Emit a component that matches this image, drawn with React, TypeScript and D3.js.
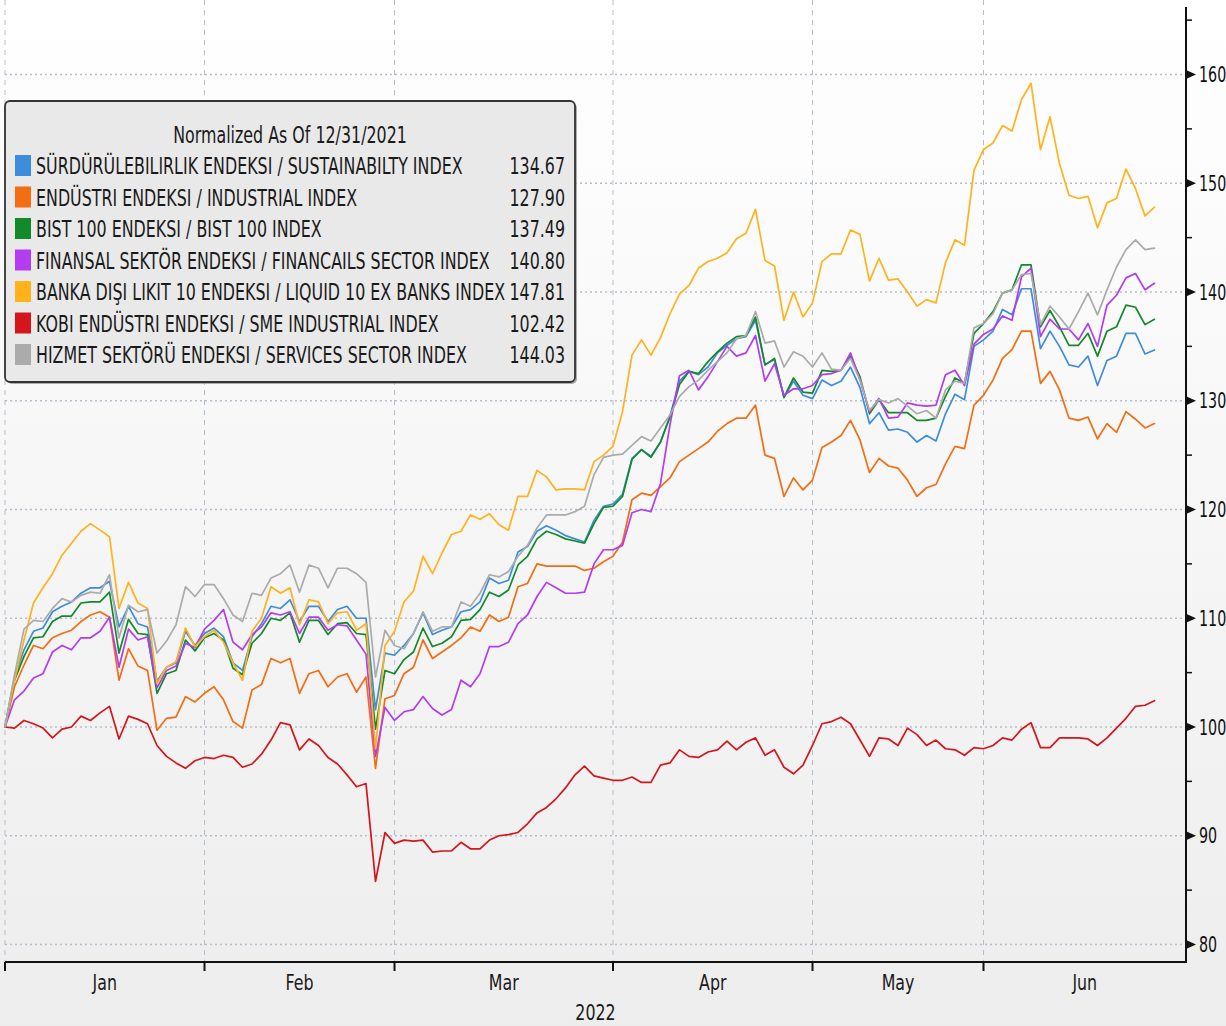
import React from 'react';
import * as d3 from 'd3';

const W = 1226;
const H = 1026;

// month boundaries as trading-day index (0 = 12/31/2021)
const monthLabels = ['Jan', 'Feb', 'Mar', 'Apr', 'May', 'Jun'];
const monthStartIdx = [0, 21, 41, 64, 85, 103];
const yearLabel = '2022';
const yTicks = [80, 90, 100, 110, 120, 130, 140, 150, 160];
const yMinorTicks = [85, 95, 105, 115, 125, 135, 145, 155, 165];
const legendTitle = 'Normalized As Of 12/31/2021';

const seriesNames = [
  'SÜRDÜRÜLEBILIRLIK ENDEKSI / SUSTAINABILTY INDEX',
  'ENDÜSTRI ENDEKSI / INDUSTRIAL INDEX',
  'BIST 100 ENDEKSI / BIST 100 INDEX',
  'FINANSAL SEKTÖR ENDEKSI / FINANCAILS SECTOR INDEX',
  'BANKA DIŞI LIKIT 10 ENDEKSI / LIQUID 10 EX BANKS INDEX',
  'KOBI ENDÜSTRI ENDEKSI / SME INDUSTRIAL INDEX',
  'HIZMET SEKTÖRÜ ENDEKSI / SERVICES SECTOR INDEX',
];
const lastLabels = ['134.67', '127.90', '137.49', '140.80', '147.81', '102.42', '144.03'];
const seriesColors = ['#3d8ddb', '#f36d12', '#13892a', '#b33cf0', '#ffb21c', '#d4161c', '#ababab'];

const sustainability = [
  100, 104.6, 107.1, 108.8, 109.1, 110.6, 111.1, 111.5, 112.3, 112.8,
  112.8, 113.4, 109.2, 111.1, 109.5, 109.2, 104.2, 105.5, 105.9, 108.8,
  107.5, 108.6, 109.1, 108.3, 105.9, 105.2, 108.3, 109.5, 111.1, 110.9,
  111.7, 109.7, 111.1, 111.1, 109.7, 110.8, 111.1, 110.0, 110.0, 101.6,
  106.8, 106.6, 107.5, 108.6, 110.5, 108.5, 108.9, 109.2, 110.6, 110.8,
  111.5, 113.7, 113.2, 113.5, 116.1, 116.6, 118.0, 118.5, 118.1, 117.6,
  117.3, 117.0, 119.0, 120.3, 120.5, 121.4, 124.7, 125.5, 124.9, 126.2,
  128.6, 131.8, 132.7, 132.4, 133.1, 134.4, 135.1, 135.7, 135.9, 137.4,
  133.3, 133.8, 130.3, 131.8, 130.5, 130.2, 131.9, 131.4, 131.8, 133.1,
  131.2, 127.9, 128.9, 127.3, 127.4, 127.1, 126.2, 126.8, 126.3, 128.8,
  130.6, 130.1, 135.0, 135.6, 136.4, 138.4, 137.9, 140.3, 140.3, 134.8,
  136.4, 135.0, 133.3, 133.1, 134.1, 131.4, 133.7, 134.1, 136.2, 136.2,
  134.3, 134.67,
];

const industrial = [
  100, 103.7, 105.7, 107.5, 107.2, 108.2, 108.6, 108.9, 109.7, 110.3,
  110.6, 110.1, 104.3, 107.2, 105.6, 105.2, 99.7, 100.8, 100.9, 102.8,
  102.3, 103.1, 103.7, 102.5, 100.5, 99.9, 103.4, 103.9, 106.3, 105.9,
  106.3, 103.1, 104.9, 105.2, 103.7, 104.6, 104.9, 103.2, 104.6, 96.2,
  102.6, 102.9, 104.9, 105.5, 108.0, 106.3, 106.9, 107.5, 108.2, 109.2,
  108.8, 110.3, 109.7, 110.1, 112.9, 113.2, 115.0, 114.8, 114.8, 114.8,
  114.8, 114.4, 114.6, 115.2, 115.7, 117.0, 120.9, 121.5, 121.3, 122.1,
  122.9, 124.4, 125.0, 125.6, 126.2, 127.2, 127.9, 128.4, 128.4, 129.6,
  125.0, 124.7, 121.2, 122.9, 121.8, 122.7, 125.7, 126.2, 126.8, 128.2,
  126.4, 123.4, 124.7, 124.0, 123.8, 122.7, 121.2, 122.0, 122.3, 124.2,
  125.8, 125.6, 129.6, 130.5, 131.9, 133.9, 134.7, 136.4, 136.4, 131.6,
  132.7, 131.0, 128.4, 128.2, 128.5, 126.5, 127.9, 127.1, 129.0, 128.3,
  127.5, 127.9,
];

const bist100 = [
  100, 104.3, 106.5, 108.2, 108.3, 109.7, 110.2, 110.2, 111.4, 111.5,
  111.5, 112.4, 106.8, 109.9, 108.6, 108.5, 103.1, 104.9, 105.2, 108.0,
  107.0, 108.2, 108.6, 108.0, 105.4, 104.8, 107.7, 108.6, 110.0, 109.8,
  110.5, 107.8, 109.8, 109.8, 108.5, 109.5, 109.6, 108.6, 108.5, 99.8,
  105.2, 104.9, 106.2, 106.9, 109.1, 107.4, 107.7, 108.3, 109.8, 109.9,
  110.8, 112.4, 112.0, 112.6, 114.9, 115.7, 117.3, 118.0, 117.7, 117.3,
  117.1, 116.9, 118.7, 120.2, 120.3, 121.2, 124.6, 125.5, 124.8, 126.2,
  128.5, 131.5, 132.7, 132.5, 133.6, 134.5, 135.3, 135.9, 136.0, 137.7,
  133.3, 133.9, 130.3, 132.1, 130.8, 130.7, 132.8, 132.7, 132.8, 134.1,
  132.2, 128.8, 130.1, 128.9, 128.9, 128.9, 128.2, 128.2, 128.4, 130.4,
  132.1, 131.6, 136.2, 137.1, 138.2, 139.9, 140.2, 142.5, 142.5, 136.8,
  138.3, 136.8, 135.1, 135.1, 136.2, 134.1, 136.4, 136.8, 138.8, 138.6,
  137.0, 137.49,
];

const financials = [
  100, 102.5, 103.3, 104.5, 104.9, 106.9, 107.5, 107.1, 108.2, 108.2,
  108.8, 110.1, 105.5, 109.0, 108.0, 108.3, 103.6, 105.2, 105.6, 107.7,
  107.3, 109.0, 109.8, 110.8, 107.8, 107.1, 108.5, 109.2, 110.5, 110.3,
  110.6, 108.6, 110.1, 110.1, 108.9, 109.4, 109.3, 108.0, 106.7, 97.3,
  101.8, 100.6, 101.4, 101.6, 102.8, 101.7, 101.1, 101.6, 104.3, 103.7,
  104.9, 107.4, 107.4, 107.8, 109.5, 110.3, 112.0, 113.3, 112.8, 112.3,
  112.3, 112.4, 115.0, 116.3, 116.3, 116.7, 119.7, 120.0, 119.8, 122.4,
  127.8, 132.3, 132.8, 131.0, 132.2, 133.6, 135.0, 134.1, 134.4, 136.0,
  131.8, 133.4, 130.5, 131.1, 131.1, 131.4, 132.4, 132.5, 132.8, 134.4,
  131.9, 129.0, 130.2, 128.4, 128.5, 129.8, 129.6, 129.5, 129.6, 132.4,
  132.8, 131.4, 135.2, 136.1, 136.6, 137.8, 137.4, 141.4, 142.2, 135.9,
  137.5, 136.6, 136.6, 135.6, 137.1, 135.0, 138.8, 139.7, 141.3, 141.7,
  140.2, 140.8,
];

const liquid10 = [
  100, 104.3, 108.0, 111.4, 112.8, 114.1, 115.8, 116.9, 118.0, 118.7,
  118.1, 117.5, 110.9, 113.3, 111.4, 110.9, 104.0, 105.5, 106.0, 109.1,
  107.4, 108.3, 108.9, 107.8, 105.9, 104.3, 108.8, 110.0, 112.9, 112.3,
  112.8, 109.4, 111.7, 111.5, 109.5, 110.5, 110.6, 108.9, 109.5, 98.0,
  107.5, 108.8, 111.5, 112.5, 115.7, 114.1, 116.0, 117.7, 118.0, 119.5,
  119.1, 119.6, 118.6, 118.1, 121.2, 121.2, 123.6, 123.0, 121.8, 121.9,
  121.9, 121.8, 124.4, 125.0, 125.8, 129.0, 134.2, 135.6, 134.2, 135.8,
  138.0, 139.8, 140.6, 142.2, 142.8, 143.1, 143.6, 144.9, 145.4, 147.6,
  142.9, 142.4, 137.4, 140.0, 137.7, 139.0, 142.8, 143.5, 143.5, 145.7,
  145.3, 141.0, 143.1, 141.1, 141.2, 140.0, 138.7, 139.3, 139.0, 142.7,
  144.8, 144.3, 151.2, 153.1, 153.7, 155.3, 154.8, 157.7, 159.2, 153.1,
  156.1, 151.8, 148.9, 148.6, 148.8, 145.9, 148.2, 148.6, 151.3, 149.5,
  147.0, 147.81,
];

const smeIndustrial = [
  100, 99.9, 100.6, 100.3, 99.9, 99.0, 99.8, 100.0, 101.0, 100.6,
  101.3, 101.9, 98.9, 101.0, 100.7, 100.3, 98.3, 97.3, 96.7, 96.2,
  96.9, 97.2, 97.1, 97.4, 97.2, 96.3, 96.6, 97.5, 98.8, 100.4,
  100.2, 97.9, 98.9, 98.3, 97.2, 96.6, 95.6, 94.5, 94.8, 85.8,
  90.3, 89.3, 89.6, 89.5, 89.6, 88.5, 88.6, 88.6, 89.4, 88.8,
  88.8, 89.6, 90.0, 90.1, 90.3, 91.1, 92.1, 92.6, 93.4, 94.4,
  95.6, 96.4, 95.5, 95.3, 95.1, 95.1, 95.4, 94.9, 94.9, 96.5,
  96.7, 97.9, 97.3, 97.2, 97.7, 97.9, 98.7, 97.9, 98.6, 99.0,
  97.4, 97.9, 96.3, 95.7, 96.5, 98.3, 100.3, 100.5, 100.9, 100.3,
  98.8, 97.3, 99.0, 98.9, 98.3, 99.9, 99.3, 98.3, 98.8, 98.0,
  97.9, 97.4, 98.1, 98.0, 98.3, 99.0, 98.8, 99.8, 100.4, 98.1,
  98.1, 99.0, 99.0, 99.0, 98.9, 98.3, 99.0, 99.9, 100.8, 101.9,
  102.0, 102.42,
];

const services = [
  100, 104.8, 109.0, 109.8, 109.7, 110.9, 111.8, 111.5, 112.1, 112.4,
  112.3, 114.0, 108.2, 111.2, 110.6, 110.8, 106.8, 107.9, 109.4, 112.9,
  112.0, 113.1, 113.1, 111.8, 110.3, 109.7, 112.3, 112.1, 113.7, 114.1,
  114.9, 112.4, 114.9, 114.6, 112.8, 114.6, 114.6, 114.1, 113.3, 104.6,
  108.9, 107.5, 107.2, 108.6, 110.6, 108.8, 109.2, 109.2, 111.5, 111.1,
  112.3, 114.0, 113.8, 114.3, 115.7, 116.7, 118.3, 119.5, 119.5, 119.5,
  119.8, 120.3, 123.2, 124.8, 125.0, 125.1, 125.9, 126.7, 126.3, 127.5,
  128.7, 130.4, 131.3, 131.9, 132.8, 133.6, 134.4, 135.7, 136.0, 138.2,
  135.3, 135.5, 133.1, 134.5, 134.1, 133.1, 134.4, 132.9, 132.8, 133.9,
  131.9, 129.1, 130.1, 129.8, 130.2, 129.5, 128.8, 129.1, 128.4, 131.0,
  131.8, 131.6, 136.7, 137.1, 138.0, 139.9, 140.2, 141.6, 141.7, 137.0,
  138.7, 137.7, 136.6, 138.2, 139.9, 137.9, 140.2, 142.3, 143.9, 144.8,
  143.9, 144.03,
];

const seriesValues = [sustainability, industrial, bist100, financials, liquid10, smeIndustrial, services];

const FONT = "'DejaVu Sans', 'Liberation Sans', sans-serif";

export default function App() {
  const plotLeft = 5;
  const axisRight = 1186;
  const axisBottom = 962;
  const step = 9.5;
  const nPts = sustainability.length;

  const x = d3.scaleLinear().domain([0, nPts - 1]).range([plotLeft, plotLeft + (nPts - 1) * step]);
  const y = d3.scaleLinear().domain([80, 160]).range([944.5, 74.5]);
  const lastIdx = x.invert(axisRight);

  const line = d3
    .line<number>()
    .x((_, i) => x(i))
    .y((d) => y(d));

  const monthEnds = [...monthStartIdx.slice(1), lastIdx];

  const legendX = 5;
  const legendY = 101;
  const legendW = 570;
  const legendH = 281;
  const rowY = (i: number) => 166 + i * 31.5;
  const sx = 0.69;
  const fs = 23;

  return (
    <div style={{ position: 'absolute', left: 0, top: 0 }}>
      <svg width={W} height={H} style={{ display: 'block' }} fontFamily={FONT}>
        <defs>
          <linearGradient id="bg" x1="0" y1="0" x2="0" y2="1">
            <stop offset="0" stopColor="#ffffff" />
            <stop offset="1" stopColor="#ededed" />
          </linearGradient>
        </defs>
        <rect x={0} y={0} width={W} height={H} fill="url(#bg)" />

        {/* horizontal grid */}
        {yTicks.map((t) => (
          <line key={'hg' + t} x1={plotLeft} x2={axisRight} y1={y(t)} y2={y(t)}
            stroke="#b6bdcb" strokeWidth={1.3} strokeDasharray="2,3" />
        ))}
        {/* vertical grid */}
        {monthStartIdx.map((m) => (
          <line key={'vg' + m} x1={x(m)} x2={x(m)} y1={0} y2={axisBottom}
            stroke="#b6bdcb" strokeWidth={1} strokeDasharray="5,5" />
        ))}

        {/* series */}
        {seriesValues.map((vals, i) => (
          <path key={'s' + i} d={line(vals) || ''} fill="none" stroke={seriesColors[i]}
            strokeWidth={1.7} strokeLinejoin="round" strokeLinecap="round" />
        ))}

        {/* legend */}
        <rect x={legendX + 2} y={legendY + 2} width={legendW} height={legendH} rx={5} fill="#7a7a7a" opacity={0.6} />
        <rect x={legendX} y={legendY} width={legendW} height={legendH} rx={5} fill="#e9e9e9" stroke="#333" strokeWidth={1.8} />
        <text transform={`translate(${legendX + legendW / 2},143) scale(${sx},1)`} textAnchor="middle"
          fontSize={fs} fill="#1a1a1a">{legendTitle}</text>
        {seriesNames.map((name, i) => (
          <g key={'lg' + i}>
            <rect x={15} y={rowY(i) - 11} width={16} height={21} fill={seriesColors[i]} />
            <text transform={`translate(36,${rowY(i) + 8}) scale(${sx},1)`} fontSize={fs} fill="#1a1a1a">{name}</text>
            <text transform={`translate(565,${rowY(i) + 8}) scale(${sx},1)`} textAnchor="end" fontSize={fs} fill="#1a1a1a">
              {lastLabels[i]}
            </text>
          </g>
        ))}

        {/* right axis */}
        <line x1={axisRight} x2={axisRight} y1={y(166.2)} y2={axisBottom + 1} stroke="#111" strokeWidth={2} />
        {yMinorTicks.map((t) => (
          <line key={'mt' + t} x1={axisRight} x2={axisRight + 6} y1={y(t)} y2={y(t)} stroke="#111" strokeWidth={1.5} />
        ))}
        {yTicks.map((t) => (
          <g key={'yt' + t}>
            <path d={`M${axisRight},${y(t) - 4.5}L${axisRight + 10},${y(t)}L${axisRight},${y(t) + 4.5}Z`} fill="#111" />
            <text transform={`translate(1199,${y(t) + 7.5}) scale(0.68,1)`} fontSize={21} fill="#111">{t}</text>
          </g>
        ))}

        {/* bottom axis */}
        <line x1={plotLeft} x2={axisRight + 1} y1={axisBottom} y2={axisBottom} stroke="#111" strokeWidth={2} />
        {monthStartIdx.map((m) => (
          <line key={'xt' + m} x1={x(m)} x2={x(m)} y1={axisBottom} y2={axisBottom + 9} stroke="#111" strokeWidth={2} />
        ))}
        {monthLabels.map((lab, i) => (
          <text key={'ml' + lab} transform={`translate(${(x(monthStartIdx[i]) + x(monthEnds[i])) / 2},990) scale(0.72,1)`}
            textAnchor="middle" fontSize={22} fill="#1a1a1a">{lab}</text>
        ))}
        <text transform={`translate(${(plotLeft + axisRight) / 2},1020) scale(0.72,1)`} textAnchor="middle"
          fontSize={22} fill="#1a1a1a">{yearLabel}</text>
      </svg>
    </div>
  );
}
